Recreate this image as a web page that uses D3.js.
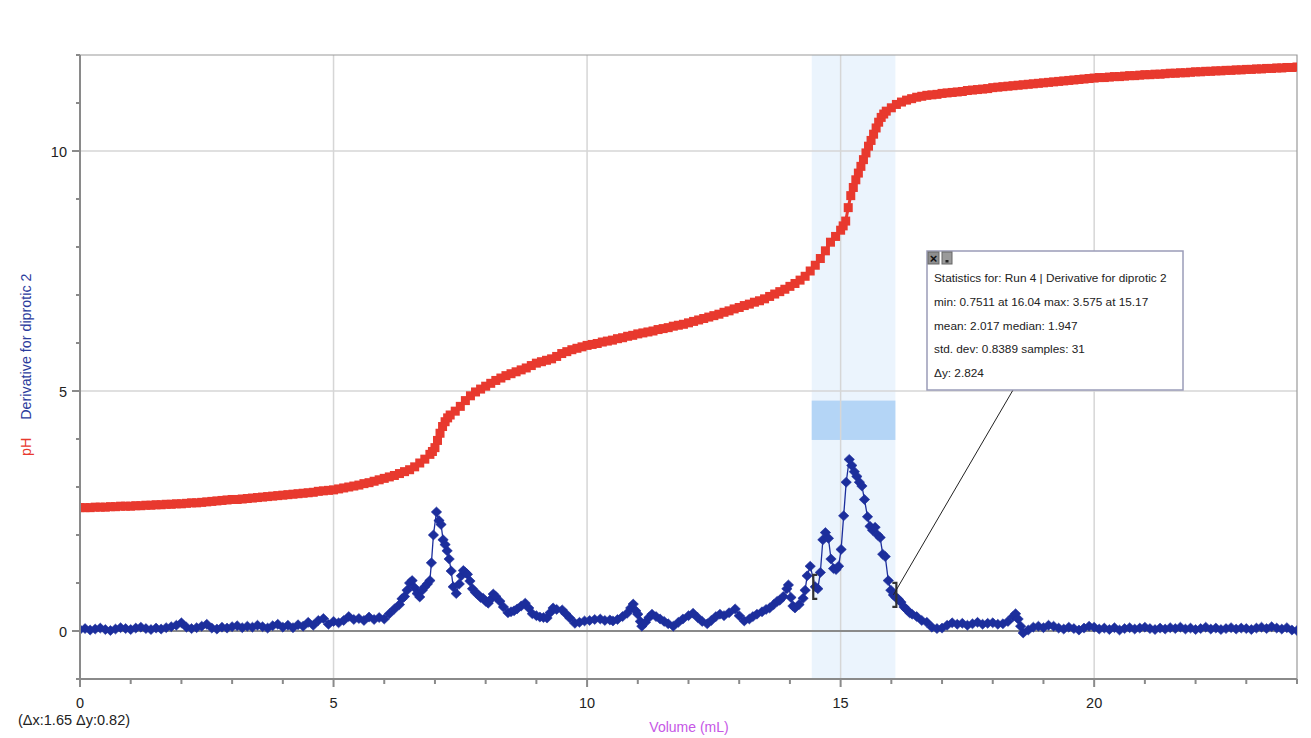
<!DOCTYPE html>
<html>
<head>
<meta charset="utf-8">
<script src="https://cdn.jsdelivr.net/npm/d3@7"></script>
<style>
  body { margin: 0; background: #fff; }
  svg { display: block; font-family: "Liberation Sans", Arial, sans-serif; }
</style>
</head>
<body>
<svg id="chart" width="1311" height="738"></svg>
<script>
// Titration run: pH against added volume (mL)
const phData = [
  [0,2.57],[0.1,2.57],[0.2,2.57],[0.3,2.58],[0.4,2.58],[0.5,2.58],[0.6,2.59],[0.7,2.59],[0.8,2.60],[0.9,2.60],
  [1.0,2.60],[1.1,2.61],[1.2,2.61],[1.3,2.62],[1.4,2.62],[1.5,2.63],[1.6,2.63],[1.7,2.64],[1.8,2.64],[1.9,2.65],
  [2.0,2.65],[2.1,2.66],[2.2,2.67],[2.3,2.67],[2.4,2.68],[2.5,2.69],[2.6,2.70],[2.7,2.71],[2.8,2.72],[2.9,2.73],
  [3.0,2.74],[3.1,2.74],[3.2,2.75],[3.3,2.76],[3.4,2.77],[3.5,2.78],[3.6,2.79],[3.7,2.80],[3.8,2.81],[3.9,2.82],
  [4.0,2.83],[4.1,2.84],[4.2,2.85],[4.3,2.86],[4.4,2.87],[4.5,2.88],[4.6,2.89],[4.7,2.91],[4.8,2.92],[4.9,2.93],
  [5.0,2.94],[5.1,2.96],[5.2,2.98],[5.3,3.00],[5.4,3.02],[5.5,3.04],[5.6,3.07],[5.7,3.09],[5.8,3.12],[5.9,3.15],
  [6.0,3.18],[6.1,3.21],[6.2,3.24],[6.3,3.28],[6.4,3.32],[6.5,3.36],[6.6,3.42],[6.7,3.50],[6.8,3.58],[6.9,3.68],
  [6.95,3.74],[7.0,3.82],[7.05,3.97],[7.1,4.12],[7.15,4.26],[7.2,4.36],[7.25,4.44],[7.3,4.50],[7.4,4.58],[7.5,4.68],
  [7.6,4.80],[7.7,4.90],[7.8,4.98],[7.9,5.04],[8.0,5.10],[8.1,5.16],[8.2,5.22],[8.3,5.27],[8.4,5.32],[8.5,5.36],
  [8.6,5.40],[8.7,5.44],[8.8,5.48],[8.9,5.53],[9.0,5.58],[9.1,5.61],[9.2,5.64],[9.3,5.67],[9.4,5.72],[9.5,5.78],
  [9.6,5.82],[9.7,5.86],[9.8,5.89],[9.9,5.92],[10.0,5.95],[10.1,5.97],[10.2,5.99],[10.3,6.02],[10.4,6.04],[10.5,6.06],
  [10.6,6.09],[10.7,6.11],[10.8,6.14],[10.9,6.16],[11.0,6.19],[11.1,6.21],[11.2,6.23],[11.3,6.25],[11.4,6.28],[11.5,6.30],
  [11.6,6.32],[11.7,6.35],[11.8,6.37],[11.9,6.39],[12.0,6.42],[12.1,6.45],[12.2,6.48],[12.3,6.51],[12.4,6.54],[12.5,6.57],
  [12.6,6.60],[12.7,6.64],[12.8,6.67],[12.9,6.71],[13.0,6.74],[13.1,6.78],[13.2,6.81],[13.3,6.85],[13.4,6.88],[13.5,6.92],
  [13.6,6.97],[13.7,7.02],[13.8,7.07],[13.9,7.12],[14.0,7.18],[14.1,7.24],[14.2,7.31],[14.3,7.39],[14.4,7.50],[14.5,7.62],
  [14.6,7.76],[14.7,7.92],[14.8,8.10],[14.9,8.22],[15.0,8.35],[15.05,8.44],[15.1,8.54],[15.15,8.82],[15.2,9.07],[15.25,9.24],
  [15.3,9.40],[15.35,9.54],[15.4,9.68],[15.45,9.82],[15.5,9.96],[15.55,10.10],[15.6,10.22],[15.65,10.35],[15.7,10.48],[15.75,10.60],
  [15.8,10.70],[15.85,10.77],[15.9,10.83],[16.0,10.90],[16.1,10.97],[16.2,11.02],[16.3,11.06],[16.4,11.09],[16.5,11.12],[16.6,11.14],
  [16.7,11.16],[16.8,11.17],[16.9,11.18],[17.0,11.20],[17.1,11.21],[17.2,11.22],[17.3,11.23],[17.4,11.24],[17.5,11.26],[17.6,11.27],
  [17.7,11.28],[17.8,11.29],[17.9,11.30],[18.0,11.32],[18.1,11.33],[18.2,11.34],[18.3,11.35],[18.4,11.36],[18.5,11.37],[18.6,11.38],
  [18.7,11.39],[18.8,11.40],[18.9,11.41],[19.0,11.42],[19.1,11.43],[19.2,11.44],[19.3,11.45],[19.4,11.46],[19.5,11.47],[19.6,11.48],
  [19.7,11.49],[19.8,11.50],[19.9,11.51],[20.0,11.52],[20.1,11.53],[20.2,11.53],[20.3,11.54],[20.4,11.55],[20.5,11.55],[20.6,11.56],
  [20.7,11.57],[20.8,11.57],[20.9,11.58],[21.0,11.59],[21.1,11.59],[21.2,11.60],[21.3,11.60],[21.4,11.61],[21.5,11.62],[21.6,11.62],
  [21.7,11.63],[21.8,11.63],[21.9,11.64],[22.0,11.65],[22.1,11.65],[22.2,11.66],[22.3,11.66],[22.4,11.67],[22.5,11.67],[22.6,11.68],
  [22.7,11.68],[22.8,11.69],[22.9,11.69],[23.0,11.70],[23.1,11.70],[23.2,11.71],[23.3,11.71],[23.4,11.72],[23.5,11.72],[23.6,11.73],
  [23.7,11.73],[23.8,11.74],[23.9,11.74],[24.0,11.75]
];

// First derivative dpH/dV against volume (mL)
const derivData = [
  [0.0,0.03],[0.1,0.05],[0.2,0.02],[0.3,0.04],[0.4,0.06],[0.5,0.03],[0.6,0.01],[0.7,0.04],[0.8,0.07],[0.9,0.05],
  [1.0,0.03],[1.1,0.06],[1.2,0.08],[1.3,0.05],[1.4,0.03],[1.5,0.06],[1.6,0.04],[1.7,0.07],[1.8,0.09],[1.9,0.12],
  [2.0,0.17],[2.1,0.08],[2.2,0.05],[2.3,0.07],[2.4,0.10],[2.5,0.14],[2.6,0.06],[2.7,0.04],[2.8,0.08],[2.9,0.06],
  [3.0,0.09],[3.1,0.11],[3.2,0.07],[3.3,0.10],[3.4,0.08],[3.5,0.12],[3.6,0.09],[3.7,0.06],[3.8,0.11],[3.9,0.14],
  [4.0,0.08],[4.1,0.12],[4.2,0.07],[4.3,0.13],[4.4,0.10],[4.5,0.18],[4.6,0.12],[4.7,0.22],[4.8,0.26],[4.9,0.14],
  [5.0,0.20],[5.1,0.17],[5.2,0.22],[5.3,0.30],[5.4,0.24],[5.5,0.26],[5.6,0.22],[5.7,0.29],[5.8,0.24],[5.9,0.28],
  [6.0,0.25],[6.1,0.36],[6.2,0.46],[6.3,0.55],[6.35,0.67],[6.4,0.72],[6.45,0.85],[6.5,1.00],[6.55,1.05],[6.6,0.90],
  [6.65,0.78],[6.7,0.71],[6.75,0.85],[6.8,0.92],[6.85,0.98],[6.9,1.05],[6.93,1.42],[6.97,2.00],[7.03,2.48],[7.08,2.30],
  [7.12,2.22],[7.16,1.90],[7.2,1.80],[7.24,1.67],[7.28,1.50],[7.32,1.25],[7.36,0.92],[7.42,0.78],[7.48,0.98],[7.52,1.15],
  [7.56,1.26],[7.6,1.22],[7.64,1.18],[7.69,1.04],[7.74,0.88],[7.8,0.80],[7.85,0.76],[7.9,0.70],[7.95,0.68],[8.0,0.62],
  [8.05,0.58],[8.1,0.66],[8.15,0.77],[8.2,0.72],[8.28,0.62],[8.35,0.50],[8.44,0.38],[8.5,0.40],[8.56,0.42],[8.62,0.46],
  [8.7,0.52],[8.78,0.58],[8.85,0.48],[8.92,0.36],[9.0,0.32],[9.07,0.29],[9.14,0.28],[9.21,0.27],[9.27,0.38],[9.33,0.48],
  [9.4,0.45],[9.51,0.44],[9.58,0.36],[9.66,0.27],[9.76,0.16],[9.85,0.18],[9.95,0.21],[10.05,0.22],[10.15,0.24],[10.26,0.25],
  [10.35,0.22],[10.45,0.23],[10.51,0.21],[10.6,0.24],[10.7,0.30],[10.79,0.37],[10.86,0.48],[10.91,0.56],[10.96,0.42],[11.0,0.35],
  [11.05,0.20],[11.08,0.10],[11.15,0.18],[11.22,0.28],[11.28,0.35],[11.36,0.30],[11.44,0.25],[11.52,0.20],[11.6,0.15],[11.7,0.10],
  [11.8,0.18],[11.89,0.25],[12.0,0.32],[12.09,0.37],[12.18,0.28],[12.27,0.20],[12.37,0.15],[12.45,0.22],[12.54,0.30],[12.62,0.35],
  [12.7,0.32],[12.8,0.38],[12.92,0.46],[13.0,0.32],[13.1,0.21],[13.2,0.25],[13.27,0.30],[13.35,0.35],[13.45,0.40],[13.53,0.45],
  [13.6,0.48],[13.68,0.55],[13.75,0.62],[13.8,0.64],[13.87,0.72],[13.94,0.88],[13.97,0.96],[14.02,0.70],[14.06,0.52],[14.1,0.48],
  [14.18,0.55],[14.26,0.68],[14.3,0.85],[14.34,1.15],[14.4,1.35],
  // selected interval, 31 samples
  [14.50,0.92],[14.55,0.88],[14.60,1.22],[14.65,1.90],[14.70,2.05],[14.76,1.93],[14.81,1.50],[14.86,1.30],[14.91,1.28],[14.96,1.35],
  [15.01,1.70],[15.06,2.40],[15.11,3.10],[15.17,3.575],[15.22,3.45],[15.27,3.32],[15.32,3.22],[15.37,3.10],[15.42,3.02],[15.47,2.74],
  [15.53,2.38],[15.58,2.18],[15.63,2.10],[15.68,2.16],[15.73,2.00],[15.78,1.947],[15.83,1.60],[15.88,1.55],[15.94,1.05],[15.99,0.85],
  [16.04,0.7511],
  [16.09,0.70],[16.14,0.66],[16.19,0.60],[16.25,0.50],[16.3,0.45],[16.36,0.38],[16.41,0.35],[16.5,0.30],[16.6,0.22],[16.7,0.18],
  [16.8,0.08],[16.9,0.05],[17.0,0.06],[17.1,0.12],[17.2,0.17],[17.3,0.14],[17.4,0.16],[17.5,0.12],[17.6,0.15],[17.7,0.18],
  [17.8,0.14],[17.9,0.16],[18.0,0.17],[18.1,0.14],[18.2,0.15],[18.3,0.20],[18.4,0.30],[18.45,0.36],[18.5,0.25],[18.55,0.10],
  [18.6,-0.04],[18.7,0.02],[18.8,0.08],[18.9,0.10],[19.0,0.07],[19.1,0.12],[19.2,0.10],[19.3,0.06],[19.4,0.04],[19.5,0.08],
  [19.6,0.05],[19.7,0.02],[19.8,0.06],[19.9,0.10],[20.0,0.08],[20.1,0.04],[20.2,0.06],[20.3,0.03],[20.4,0.07],[20.5,0.02],
  [20.6,0.05],[20.7,0.07],[20.8,0.04],[20.9,0.06],[21.0,0.08],[21.1,0.05],[21.2,0.03],[21.3,0.06],[21.4,0.04],[21.5,0.07],
  [21.6,0.05],[21.7,0.08],[21.8,0.04],[21.9,0.06],[22.0,0.03],[22.1,0.05],[22.2,0.08],[22.3,0.04],[22.4,0.06],[22.5,0.03],
  [22.6,0.05],[22.7,0.07],[22.8,0.04],[22.9,0.06],[23.0,0.05],[23.1,0.03],[23.2,0.06],[23.3,0.08],[23.4,0.05],[23.5,0.09],
  [23.6,0.06],[23.7,0.04],[23.8,0.07],[23.9,0.02],[24.0,0.01]
];

const xMajorTicks = [0, 5, 10, 15, 20];
const yMajorTicks = [0, 5, 10];
const xGridValues = [5, 10, 15, 20];
const yGridValues = [5, 10];
const selectionRange = [14.43, 16.08];   // examined interval (mL)
const deltaBand = [3.98, 4.80];          // Δy marker band
const selectedEnds = [14.50, 16.04];     // first / last sample inside the interval
const statsLines = [
  "Statistics for: Run 4 | Derivative for diprotic 2",
  "min: 0.7511 at 16.04 max: 3.575 at 15.17",
  "mean: 2.017 median: 1.947",
  "std. dev: 0.8389 samples: 31",
  "Δy: 2.824"
];
const deltaReadout = "(Δx:1.65 Δy:0.82)";

const RED = "#e8392e", BLUE = "#1c2e9c";
const svg = d3.select("#chart");
const L = 80, R = 1297, T = 55, B = 679;

const x = d3.scaleLinear().domain([0, 24]).range([L, R]);
const y = d3.scaleLinear().domain([-1, 12]).range([B, T]);

svg.append("defs").append("clipPath").attr("id", "plot-clip")
  .append("rect").attr("x", L).attr("y", T - 6).attr("width", R - L).attr("height", B - T + 6);

// selection shading and Δy band
svg.append("rect")
  .attr("x", x(selectionRange[0])).attr("y", T)
  .attr("width", x(selectionRange[1]) - x(selectionRange[0])).attr("height", B - T)
  .attr("fill", "#ebf4fd");
svg.append("rect")
  .attr("x", x(selectionRange[0])).attr("y", y(deltaBand[1]))
  .attr("width", x(selectionRange[1]) - x(selectionRange[0]))
  .attr("height", y(deltaBand[0]) - y(deltaBand[1]))
  .attr("fill", "#b4d5f6");

// grid
const grid = svg.append("g").attr("stroke", "#d6d6d6").attr("stroke-width", 1.5);
grid.selectAll("line.v").data(xGridValues).join("line")
  .attr("x1", d => x(d)).attr("x2", d => x(d)).attr("y1", T).attr("y2", B);
grid.selectAll("line.h").data(yGridValues).join("line")
  .attr("x1", L).attr("x2", R).attr("y1", d => y(d)).attr("y2", d => y(d));

// frame (top + right) and zero line
svg.append("path")
  .attr("d", `M${L},${T}H${R}V${B}`)
  .attr("fill", "none").attr("stroke", "#9a9a9a").attr("stroke-width", 1.2);
svg.append("line")
  .attr("x1", L).attr("x2", R).attr("y1", y(0)).attr("y2", y(0))
  .attr("stroke", "#8a8a8a").attr("stroke-width", 2);

const plot = svg.append("g").attr("clip-path", "url(#plot-clip)");

// pH series
plot.append("path").datum(phData)
  .attr("d", d3.line().x(d => x(d[0])).y(d => y(d[1])))
  .attr("fill", "none").attr("stroke", RED).attr("stroke-width", 3);
plot.append("g").selectAll("rect").data(phData).join("rect")
  .attr("x", d => x(d[0]) - 4.5).attr("y", d => y(d[1]) - 4.5)
  .attr("width", 9).attr("height", 9).attr("fill", RED);

// derivative series
plot.append("path").datum(derivData)
  .attr("d", d3.line().x(d => x(d[0])).y(d => y(d[1])))
  .attr("fill", "none").attr("stroke", BLUE).attr("stroke-width", 1.3);
plot.append("g").selectAll("path").data(derivData).join("path")
  .attr("transform", d => `translate(${x(d[0])},${y(d[1])})`)
  .attr("d", "M0,-5L5.2,0L0,5L-5.2,0Z")
  .attr("fill", BLUE).attr("stroke", BLUE).attr("stroke-width", 0.6);

// selection end brackets
const lookup = v => derivData.find(d => Math.abs(d[0] - v) < 1e-9);
const startPt = lookup(selectedEnds[0]), endPt = lookup(selectedEnds[1]);
const bracket = (px, py, dir) =>
  `M${px + 4 * dir},${py - 12}H${px}V${py + 12}H${px + 4 * dir}`;
svg.append("path").attr("d", bracket(x(startPt[0]) - 2, y(startPt[1]), 1))
  .attr("fill", "none").attr("stroke", "#333").attr("stroke-width", 2.2);
svg.append("path").attr("d", bracket(x(endPt[0]) + 3, y(endPt[1]), -1))
  .attr("fill", "none").attr("stroke", "#333").attr("stroke-width", 2.2);

// statistics callout
const box = { x: 927, y: 251, w: 256, h: 139 };
svg.append("line")
  .attr("x1", x(endPt[0])).attr("y1", y(endPt[1]))
  .attr("x2", 1013).attr("y2", box.y + box.h)
  .attr("stroke", "#222").attr("stroke-width", 1);
svg.append("rect")
  .attr("x", box.x).attr("y", box.y).attr("width", box.w).attr("height", box.h)
  .attr("fill", "#fff").attr("stroke", "#9a9cb8").attr("stroke-width", 1.5);
svg.append("rect").attr("x", box.x + 1).attr("y", box.y + 1).attr("width", 11).attr("height", 12)
  .attr("fill", "#8e8e8e").attr("stroke", "#666");
svg.append("text").attr("x", box.x + 6.5).attr("y", box.y + 11.5)
  .attr("text-anchor", "middle").attr("font-size", 13).attr("font-weight", "bold")
  .attr("fill", "#111").text("×");
svg.append("rect").attr("x", box.x + 15).attr("y", box.y + 1).attr("width", 10).attr("height", 12)
  .attr("fill", "#9a9a9a").attr("stroke", "#666");
svg.append("rect").attr("x", box.x + 18.5).attr("y", box.y + 9).attr("width", 3).attr("height", 2.5)
  .attr("fill", "#222");
svg.append("g").selectAll("text").data(statsLines).join("text")
  .attr("x", box.x + 7).attr("y", (d, i) => box.y + 31 + i * 23.8)
  .attr("font-size", 11.8).attr("fill", "#222").text(d => d);

// axes
const axisColor = "#8a8a8a";
svg.append("line").attr("x1", L).attr("x2", L).attr("y1", T).attr("y2", B)
  .attr("stroke", axisColor).attr("stroke-width", 2);
svg.append("line").attr("x1", L).attr("x2", R).attr("y1", B).attr("y2", B)
  .attr("stroke", axisColor).attr("stroke-width", 2);

const xMinor = d3.range(0, 25, 1).filter(v => !xMajorTicks.includes(v));
const yMinor = d3.range(-1, 13, 1).filter(v => !yMajorTicks.includes(v));
const ticks = svg.append("g").attr("stroke", axisColor).attr("stroke-width", 2);
ticks.selectAll("line.xm").data(xMinor).join("line")
  .attr("x1", d => x(d)).attr("x2", d => x(d)).attr("y1", B).attr("y2", B + 5);
ticks.selectAll("line.xM").data(xMajorTicks).join("line")
  .attr("x1", d => x(d)).attr("x2", d => x(d)).attr("y1", B).attr("y2", B + 8);
ticks.selectAll("line.ym").data(yMinor).join("line")
  .attr("x1", L - 4).attr("x2", L).attr("y1", d => y(d)).attr("y2", d => y(d));
ticks.selectAll("line.yM").data(yMajorTicks).join("line")
  .attr("x1", L - 8).attr("x2", L).attr("y1", d => y(d)).attr("y2", d => y(d));

svg.append("g").selectAll("text").data(xMajorTicks).join("text")
  .attr("x", d => x(d)).attr("y", B + 29).attr("text-anchor", "middle")
  .attr("font-size", 14.5).attr("fill", "#222").text(d => d);
svg.append("g").selectAll("text").data(yMajorTicks).join("text")
  .attr("x", L - 13).attr("y", d => y(d) + 5.5).attr("text-anchor", "end")
  .attr("font-size", 14.5).attr("fill", "#222").text(d => d);

// axis titles
svg.append("text").attr("x", 689).attr("y", 732).attr("text-anchor", "middle")
  .attr("font-size", 14).attr("fill", "#c657e6").text("Volume (mL)");
svg.append("text").attr("x", 18).attr("y", 725)
  .attr("font-size", 14.5).attr("fill", "#222").text(deltaReadout);

const yTitle = svg.append("text")
  .attr("transform", "translate(31,456) rotate(-90)")
  .attr("font-size", 14.3);
yTitle.append("tspan").attr("fill", RED).text("pH");
yTitle.append("tspan").attr("dx", 18).attr("fill", "#2b3b9c").text("Derivative for diprotic 2");
</script>
</body>
</html>
